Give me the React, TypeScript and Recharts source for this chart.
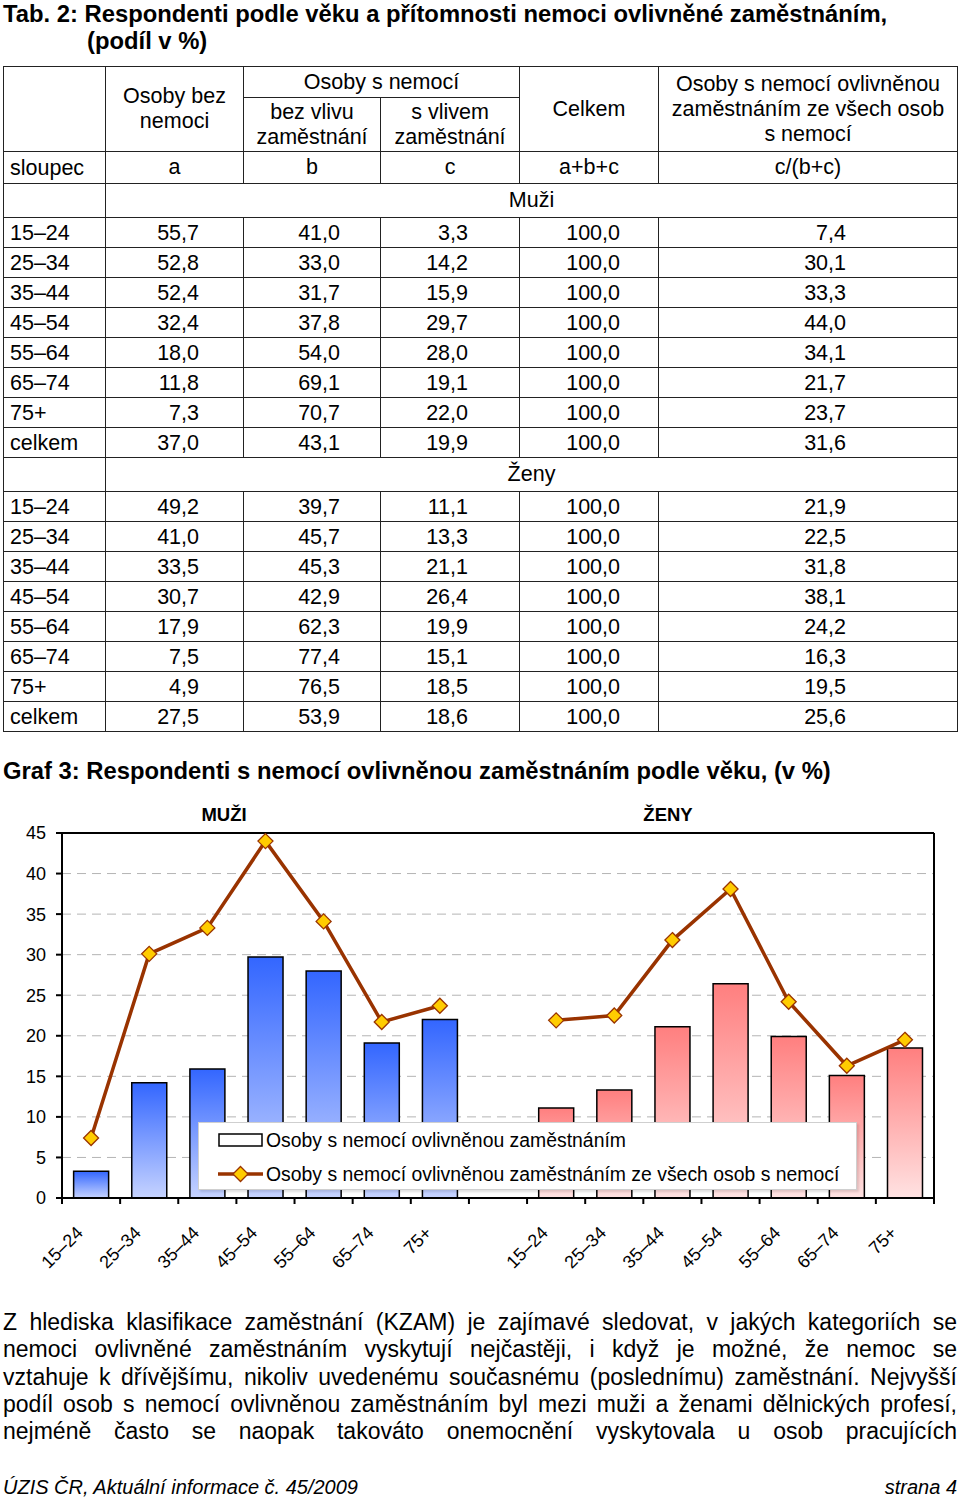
import React from 'react';
import { Bar, CartesianGrid, Cell, ComposedChart, Legend, Line, XAxis, YAxis } from 'recharts';

const FONT = '"Liberation Sans", Arial, sans-serif';

const ageGroups = ['15–24', '25–34', '35–44', '45–54', '55–64', '65–74', '75+'];
const menBars = [3.3, 14.2, 15.9, 29.7, 28.0, 19.1, 22.0];
const menShare = [7.4, 30.1, 33.3, 44.0, 34.1, 21.7, 23.7];
const womenBars = [11.1, 13.3, 21.1, 26.4, 19.9, 15.1, 18.5];
const womenShare = [21.9, 22.5, 31.8, 38.1, 24.2, 16.3, 19.5];
const yTicks = [0, 5, 10, 15, 20, 25, 30, 35, 40, 45];

const rowLabels = ['15–24', '25–34', '35–44', '45–54', '55–64', '65–74', '75+', 'celkem'];
const menColA = ['55,7', '52,8', '52,4', '32,4', '18,0', '11,8', '7,3', '37,0'];
const menColB = ['41,0', '33,0', '31,7', '37,8', '54,0', '69,1', '70,7', '43,1'];
const menColC = ['3,3', '14,2', '15,9', '29,7', '28,0', '19,1', '22,0', '19,9'];
const menColE = ['7,4', '30,1', '33,3', '44,0', '34,1', '21,7', '23,7', '31,6'];
const womenColA = ['49,2', '41,0', '33,5', '30,7', '17,9', '7,5', '4,9', '27,5'];
const womenColB = ['39,7', '45,7', '45,3', '42,9', '62,3', '77,4', '76,5', '53,9'];
const womenColC = ['11,1', '13,3', '21,1', '26,4', '19,9', '15,1', '18,5', '18,6'];
const womenColE = ['21,9', '22,5', '31,8', '38,1', '24,2', '16,3', '19,5', '25,6'];
const totalCol = '100,0';

const paragraphLines = [
  'Z hlediska klasifikace zaměstnání (KZAM) je zajímavé sledovat, v\u00a0jakých kategoriích se',
  'nemoci ovlivněné zaměstnáním vyskytují nejčastěji, i když je možné, že nemoc se',
  'vztahuje k\u00a0dřívějšímu, nikoliv uvedenému současnému (poslednímu) zaměstnání. Nejvyšší',
  'podíl osob s nemocí ovlivněnou zaměstnáním byl mezi muži a ženami dělnických profesí,',
  'nejméně často se naopak takováto onemocnění vyskytovala u osob pracujících',
];

const chartData = [
  ...ageGroups.map((g, i) => ({ cat: `m${i}`, label: g, sex: 'm', bar: menBars[i], share: menShare[i] })),
  { cat: 'gap', label: '', sex: '', bar: null, share: null },
  ...ageGroups.map((g, i) => ({ cat: `z${i}`, label: g, sex: 'z', bar: womenBars[i], share: womenShare[i] })),
];

function AgeTick(props: any) {
  const { x, y, payload, index } = props;
  const half = payload && typeof payload.offset === 'number' && payload.offset > 0 ? payload.offset : 29.1;
  const label = chartData[index] ? chartData[index].label : '';
  const tx = x - 7;
  const ty = y + 36;
  return (
    <g>
      <line x1={x - half} x2={x - half} y1={y} y2={y + 6} stroke="#000" strokeWidth={2} />
      {index === chartData.length - 1 && (
        <line x1={x + half} x2={x + half} y1={y} y2={y + 6} stroke="#000" strokeWidth={2} />
      )}
      {label && (
        <text x={tx} y={ty} transform={`rotate(-45 ${tx} ${ty})`} textAnchor="end" fontSize={18} fontFamily={FONT} fill="#000">
          {label}
        </text>
      )}
    </g>
  );
}

function Diamond(props: any) {
  const { cx, cy, value, index } = props;
  if (cx == null || cy == null || value == null) return <g key={`d${index}`} />;
  const r = 7.5;
  return (
    <path
      key={`d${index}`}
      d={`M${cx},${cy - r} L${cx + r},${cy} L${cx},${cy + r} L${cx - r},${cy} Z`}
      fill="#ffcc00"
      stroke="#993300"
      strokeWidth={1.3}
    />
  );
}

function LegendBox() {
  const row: React.CSSProperties = { display: 'flex', alignItems: 'center', height: 34, paddingLeft: 19 };
  return (
    <div
      style={{
        width: 659,
        height: 68,
        background: '#fff',
        border: '1px solid #cfcfcf',
        boxShadow: '2px 2px 2px rgba(0,0,0,0.12)',
        boxSizing: 'border-box',
        fontFamily: FONT,
        fontSize: 19.4,
        color: '#000',
        whiteSpace: 'nowrap',
      }}
    >
      <div style={row}>
        <svg width={47} height={14} style={{ marginRight: 1 }}>
          <rect x={1} y={1} width={43} height={12} fill="#fff" stroke="#000" strokeWidth={1.5} />
        </svg>
        Osoby s nemocí ovlivněnou zaměstnáním
      </div>
      <div style={row}>
        <svg width={47} height={18} style={{ marginRight: 1 }}>
          <line x1={0} x2={45} y1={9} y2={9} stroke="#993300" strokeWidth={3.5} />
          <path d="M22.5,1.5 L30,9 L22.5,16.5 L15,9 Z" fill="#ffcc00" stroke="#993300" strokeWidth={1.3} />
        </svg>
        Osoby s nemocí ovlivněnou zaměstnáním ze všech osob s nemocí
      </div>
    </div>
  );
}

const cellBase: React.CSSProperties = { border: '1px solid #222', padding: 0 };

function DataRows({ a, b, c, e }: { a: string[]; b: string[]; c: string[]; e: string[] }) {
  return (
    <>
      {rowLabels.map((lab, i) => (
        <tr key={lab} style={{ height: 30 }}>
          <td style={{ ...cellBase, textAlign: 'left', paddingLeft: 6 }}>{lab}</td>
          <td style={{ ...cellBase, textAlign: 'right', paddingRight: 44 }}>{a[i]}</td>
          <td style={{ ...cellBase, textAlign: 'right', paddingRight: 40 }}>{b[i]}</td>
          <td style={{ ...cellBase, textAlign: 'right', paddingRight: 51 }}>{c[i]}</td>
          <td style={{ ...cellBase, textAlign: 'right', paddingRight: 38 }}>{totalCol}</td>
          <td style={{ ...cellBase, textAlign: 'right', paddingRight: 111 }}>{e[i]}</td>
        </tr>
      ))}
    </>
  );
}

function DataTable() {
  const center: React.CSSProperties = { ...cellBase, textAlign: 'center', lineHeight: '25px' };
  return (
    <table
      style={{
        position: 'absolute',
        left: 3,
        top: 66,
        width: 954,
        borderCollapse: 'collapse',
        tableLayout: 'fixed',
        fontFamily: FONT,
        fontSize: 21.5,
        color: '#000',
        lineHeight: '24px',
      }}
    >
      <colgroup>
        <col style={{ width: 102 }} />
        <col style={{ width: 138 }} />
        <col style={{ width: 137 }} />
        <col style={{ width: 139 }} />
        <col style={{ width: 139 }} />
        <col style={{ width: 299 }} />
      </colgroup>
      <tbody>
        <tr style={{ height: 31 }}>
          <td rowSpan={2} style={cellBase} />
          <td rowSpan={2} style={center}>Osoby bez<br />nemoci</td>
          <td colSpan={2} style={center}>Osoby s nemocí</td>
          <td rowSpan={2} style={center}>Celkem</td>
          <td rowSpan={2} style={center}>Osoby s nemocí ovlivněnou<br />zaměstnáním ze všech osob<br />s nemocí</td>
        </tr>
        <tr style={{ height: 54 }}>
          <td style={center}>bez vlivu<br />zaměstnání</td>
          <td style={center}>s vlivem<br />zaměstnání</td>
        </tr>
        <tr style={{ height: 32 }}>
          <td style={{ ...cellBase, paddingLeft: 6 }}>sloupec</td>
          <td style={center}>a</td>
          <td style={center}>b</td>
          <td style={center}>c</td>
          <td style={center}>a+b+c</td>
          <td style={center}>c/(b+c)</td>
        </tr>
        <tr style={{ height: 34 }}>
          <td style={cellBase} />
          <td colSpan={5} style={center}>Muži</td>
        </tr>
        <DataRows a={menColA} b={menColB} c={menColC} e={menColE} />
        <tr style={{ height: 34 }}>
          <td style={cellBase} />
          <td colSpan={5} style={center}>Ženy</td>
        </tr>
        <DataRows a={womenColA} b={womenColB} c={womenColC} e={womenColE} />
      </tbody>
    </table>
  );
}

export default function App() {
  return (
    <div style={{ position: 'relative', width: 960, height: 1501, background: '#fff', fontFamily: FONT, color: '#000', overflow: 'hidden' }}>
      <style>{'body{margin:0;background:#fff}'}</style>

      <div style={{ position: 'absolute', left: 3, top: 0, fontSize: 23.8, fontWeight: 700, lineHeight: '27px', whiteSpace: 'nowrap' }}>
        <div>Tab. 2: Respondenti podle věku a přítomnosti nemoci ovlivněné zaměstnáním,</div>
        <div style={{ paddingLeft: 84 }}>(podíl v %)</div>
      </div>

      <DataTable />

      <div style={{ position: 'absolute', left: 3, top: 757, fontSize: 23.8, fontWeight: 700, lineHeight: '28px', whiteSpace: 'nowrap' }}>
        Graf 3: Respondenti s nemocí ovlivněnou zaměstnáním podle věku, (v %)
      </div>

      <div style={{ position: 'absolute', left: 0, top: 790, width: 960, height: 490 }}>
        <ComposedChart width={960} height={490} data={chartData} margin={{ top: 42, right: 25, bottom: 0, left: 12 }} barCategoryGap="20%">
          <defs>
            <linearGradient id="menGrad" x1="0" y1="0" x2="0" y2="1">
              <stop offset="0%" stopColor="#3366ff" />
              <stop offset="100%" stopColor="#c6d3ff" />
            </linearGradient>
            <linearGradient id="womenGrad" x1="0" y1="0" x2="0" y2="1">
              <stop offset="0%" stopColor="#ff7f7f" />
              <stop offset="100%" stopColor="#ffe2e2" />
            </linearGradient>
          </defs>
          <CartesianGrid vertical={false} stroke="#b4b4b4" strokeDasharray="9 6" />
          <XAxis
            dataKey="cat"
            height={82}
            interval={0}
            tick={<AgeTick />}
            tickLine={false}
            tickSize={0}
            tickMargin={0}
            axisLine={{ stroke: '#000', strokeWidth: 2 }}
          />
          <XAxis xAxisId="top" dataKey="cat" orientation="top" height={1} tick={false} tickLine={false} axisLine={{ stroke: '#000', strokeWidth: 2 }} />
          <YAxis
            domain={[0, 45]}
            ticks={yTicks}
            width={50}
            tickSize={6}
            tickMargin={10}
            tick={{ fontSize: 18, fill: '#000', fontFamily: FONT }}
            tickLine={{ stroke: '#000', strokeWidth: 2 }}
            axisLine={{ stroke: '#000', strokeWidth: 2 }}
            allowDataOverflow
          />
          <YAxis yAxisId="right" orientation="right" domain={[0, 45]} width={1} tick={false} tickLine={false} axisLine={{ stroke: '#000', strokeWidth: 2 }} />
          <Bar dataKey="bar" stroke="#000" strokeWidth={1.5} isAnimationActive={false}>
            {chartData.map((d) => (
              <Cell key={d.cat} fill={d.sex === 'z' ? 'url(#womenGrad)' : 'url(#menGrad)'} />
            ))}
          </Bar>
          {/* invisible series so the frame axes (top / right) get rendered */}
          <Line
            xAxisId="top"
            yAxisId="right"
            dataKey="share"
            stroke="none"
            dot={false}
            activeDot={false}
            legendType="none"
            isAnimationActive={false}
          />
          <Line
            dataKey="share"
            type="linear"
            stroke="#993300"
            strokeWidth={3.5}
            dot={(p: any) => <Diamond {...p} />}
            activeDot={false}
            connectNulls={false}
            isAnimationActive={false}
          />
          <Legend
            layout="horizontal"
            verticalAlign="middle"
            align="center"
            content={() => <LegendBox />}
            wrapperStyle={{ left: 198, top: 332, width: 659, height: 68 }}
          />
        </ComposedChart>
        <div style={{ position: 'absolute', left: 224, top: 15, transform: 'translateX(-50%)', fontSize: 18.5, fontWeight: 700, lineHeight: '20px' }}>MUŽI</div>
        <div style={{ position: 'absolute', left: 668, top: 15, transform: 'translateX(-50%)', fontSize: 18.5, fontWeight: 700, lineHeight: '20px' }}>ŽENY</div>
      </div>

      <div style={{ position: 'absolute', left: 3, top: 1309, width: 954, fontSize: 23, lineHeight: '27.3px' }}>
        {paragraphLines.map((l) => (
          <div key={l} style={{ textAlign: 'justify', textAlignLast: 'justify', whiteSpace: 'nowrap' }}>{l}</div>
        ))}
      </div>

      <div style={{ position: 'absolute', left: 3, top: 1476, fontSize: 20, fontStyle: 'italic', lineHeight: '22px' }}>
        ÚZIS ČR, Aktuální informace č. 45/2009
      </div>
      <div style={{ position: 'absolute', right: 3, top: 1476, fontSize: 20, fontStyle: 'italic', lineHeight: '22px' }}>strana 4</div>
    </div>
  );
}
